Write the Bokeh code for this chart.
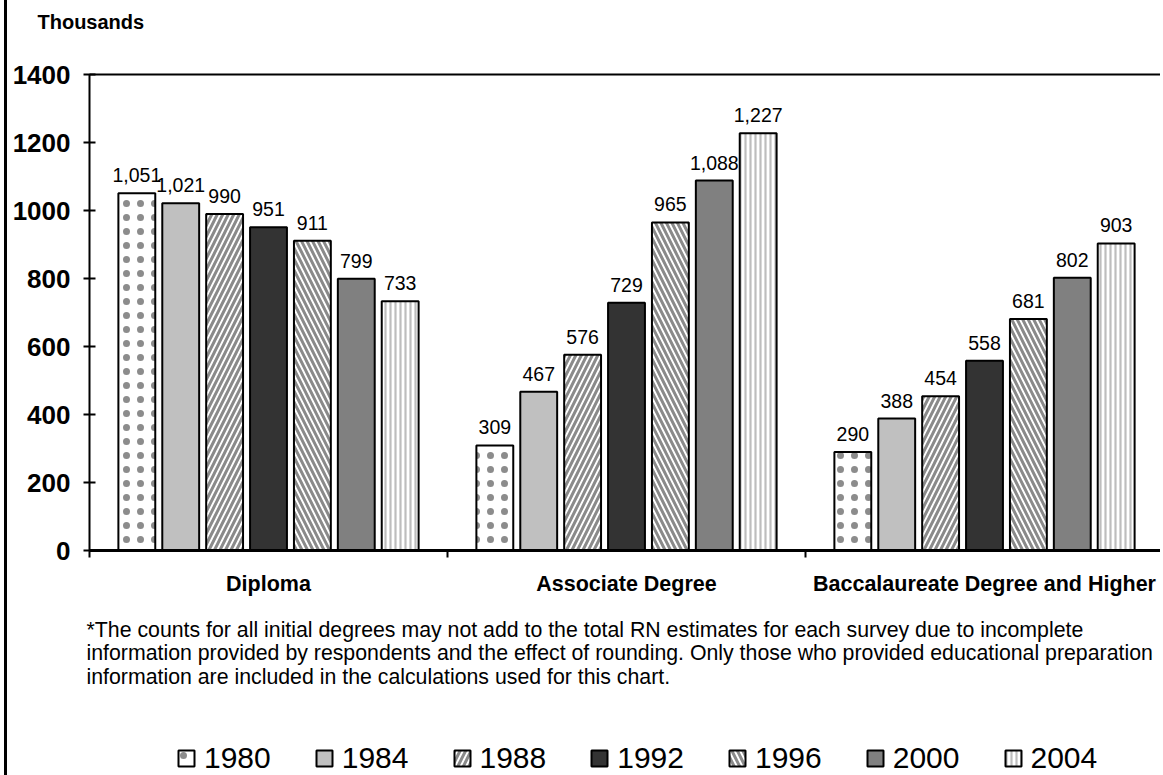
from bokeh.plotting import figure
from bokeh.models import (ColumnDataSource, Range1d, LinearAxis,
                          FixedTicker, Label, Legend, LegendItem)
from bokeh.transform import dodge
from bokeh.core.properties import value
from bokeh.embed import file_html
from bokeh.resources import INLINE

# ---------------- data ----------------
CATEGORIES = ["Diploma", "Associate Degree", "Baccalaureate Degree and Higher"]
YEARS = ["1980", "1984", "1988", "1992", "1996", "2000", "2004"]
DIPLOMA = [1051, 1021, 990, 951, 911, 799, 733]
ASSOCIATE = [309, 467, 576, 729, 965, 1088, 1227]
BACCALAUREATE = [290, 388, 454, 558, 681, 802, 903]
Y_TICKS = [0, 200, 400, 600, 800, 1000, 1200, 1400]
Y_MAX = 1400
FOOTNOTE = [
    "*The counts for all initial degrees may not add to the total RN estimates for each survey due to incomplete",
    "information provided by respondents and the effect of rounding.  Only those who provided educational preparation",
    "information are included in the calculations used for this chart.",
]

FONT_NAME = "Liberation Sans"
FONT = value(FONT_NAME)

# per-year styling
STYLES = {
    "1980": dict(fill_color="white", hatch_pattern="dot", hatch_color="#8c8c8c", hatch_scale=14, hatch_weight=0.5),
    "1984": dict(fill_color="#c0c0c0"),
    "1988": dict(fill_color="white", hatch_pattern="right_diagonal_line", hatch_color="#8a8a8a", hatch_scale=11, hatch_weight=3),
    "1992": dict(fill_color="#333333"),
    "1996": dict(fill_color="white", hatch_pattern="left_diagonal_line", hatch_color="#8a8a8a", hatch_scale=11, hatch_weight=3),
    "2000": dict(fill_color="#808080"),
    "2004": dict(fill_color="white", hatch_pattern="vertical_line", hatch_color="#bdbdbd", hatch_scale=5, hatch_weight=2.2),
}

# ---------------- layout (pixels) ----------------
W, H = 1156, 775          # canvas size (after 4px margin + 3px border)
AX_LEFT = 82              # plot-area left edge inside canvas
AX_TOP, AX_ZERO = 74, 550 # pixel rows of the top value and of zero
N = len(CATEGORIES)
px_per_slot = (W - AX_LEFT) / N
px_per_unit = (AX_ZERO - AX_TOP) / Y_MAX
x_lo = -AX_LEFT / px_per_slot
y_lo = -(H - AX_ZERO) / px_per_unit
y_hi = Y_MAX + AX_TOP / px_per_unit

CAT_POS = [i + 0.5 for i in range(N)]

p = figure(
    x_range=Range1d(x_lo, N), y_range=Range1d(y_lo, y_hi),
    width=W, height=H, title=None,
    output_backend="svg", toolbar_location=None,
    x_axis_location=None, y_axis_location=None,
    min_border=0, min_border_left=0, min_border_right=0, min_border_top=0, min_border_bottom=0,
    background_fill_color="white", border_fill_color="white",
)
p.outline_line_color = None
p.styles = {"margin-left": "4px", "border-left": "3px solid black"}
for g in p.grid:
    g.visible = False

# ---------------- bars ----------------
series = [DIPLOMA, ASSOCIATE, BACCALAUREATE]
pitch = 0.1226
width = 0.103
items = []
for i, yr in enumerate(YEARS):
    vals = [s[i] for s in series]
    src = ColumnDataSource(dict(pos=CAT_POS, value=vals, label=[f"{v:,}" for v in vals]))
    off = (i - 3) * pitch
    xd = dodge("pos", off)
    r = p.vbar(x=xd, top="value", width=width, source=src,
               line_color="black", line_width=2, **STYLES[yr])
    p.text(x=xd, y="value", text="label", source=src,
           text_align="center", text_baseline="alphabetic", y_offset=-18,
           text_font=FONT, text_font_size="19.5px", text_color="black")
    items.append(LegendItem(label=yr, renderers=[r]))

# ---------------- axes ----------------
yax = LinearAxis(fixed_location=0, bounds=(0, Y_MAX), ticker=FixedTicker(ticks=Y_TICKS))
yax.axis_line_width = 2
yax.axis_line_color = "black"
yax.major_tick_in = 6
yax.major_tick_out = 6
yax.major_tick_line_width = 2
yax.minor_tick_line_color = None
yax.major_label_standoff = 13
yax.major_label_text_font = FONT_NAME
yax.major_label_text_font_style = "bold"
yax.major_label_text_font_size = "26px"
yax.major_label_text_color = "black"
p.add_layout(yax, "left")

xax = LinearAxis(
    fixed_location=0, bounds=(0, N),
    ticker=FixedTicker(ticks=CAT_POS, minor_ticks=list(range(N + 1))),
    major_label_overrides={pos: name for pos, name in zip(CAT_POS, CATEGORIES)},
)
xax.axis_line_width = 3
xax.axis_line_color = "black"
xax.major_tick_in = 0
xax.major_tick_out = 0
xax.minor_tick_in = 0
xax.minor_tick_out = 7
xax.minor_tick_line_width = 2
xax.minor_tick_line_color = "black"
xax.major_label_standoff = 14
xax.major_label_text_font = FONT_NAME
xax.major_label_text_font_style = "bold"
xax.major_label_text_font_size = "21.5px"
xax.major_label_text_color = "black"
p.add_layout(xax, "below")

top_axis = LinearAxis(fixed_location=Y_MAX, bounds=(0, N), ticker=FixedTicker(ticks=[]))
top_axis.axis_line_width = 2
top_axis.axis_line_color = "black"
top_axis.major_label_text_font_size = "0px"
top_axis.major_tick_out = 0
top_axis.major_tick_in = 0
top_axis.minor_tick_out = 0
top_axis.minor_tick_in = 0
p.add_layout(top_axis, "above")

# ---------------- texts ----------------
p.add_layout(Label(x=30, y=H - 21, x_units="screen", y_units="screen", text="Thousands",
                   text_font=FONT_NAME, text_font_style="bold", text_font_size="20px",
                   text_color="black", text_baseline="middle", text_align="left"))
for k, line in enumerate(FOOTNOTE):
    p.add_layout(Label(x=79, y=H - 629 - 23.5 * k, x_units="screen", y_units="screen", text=line,
                       text_font=FONT_NAME, text_font_size="21.3px", text_color="black",
                       text_baseline="middle", text_align="left"))

# ---------------- legend ----------------
legend = Legend(items=items, orientation="horizontal", location=(169, 0))
legend.label_text_font = FONT_NAME
legend.label_text_font_size = "30px"
legend.label_text_color = "black"
legend.glyph_width = 20
legend.glyph_height = 20
legend.label_standoff = 8
legend.spacing = 43
legend.padding = 0
legend.margin = 0
legend.border_line_color = None
legend.background_fill_alpha = 0
p.add_layout(legend)

open("out.html", "w").write(file_html(p, INLINE))
